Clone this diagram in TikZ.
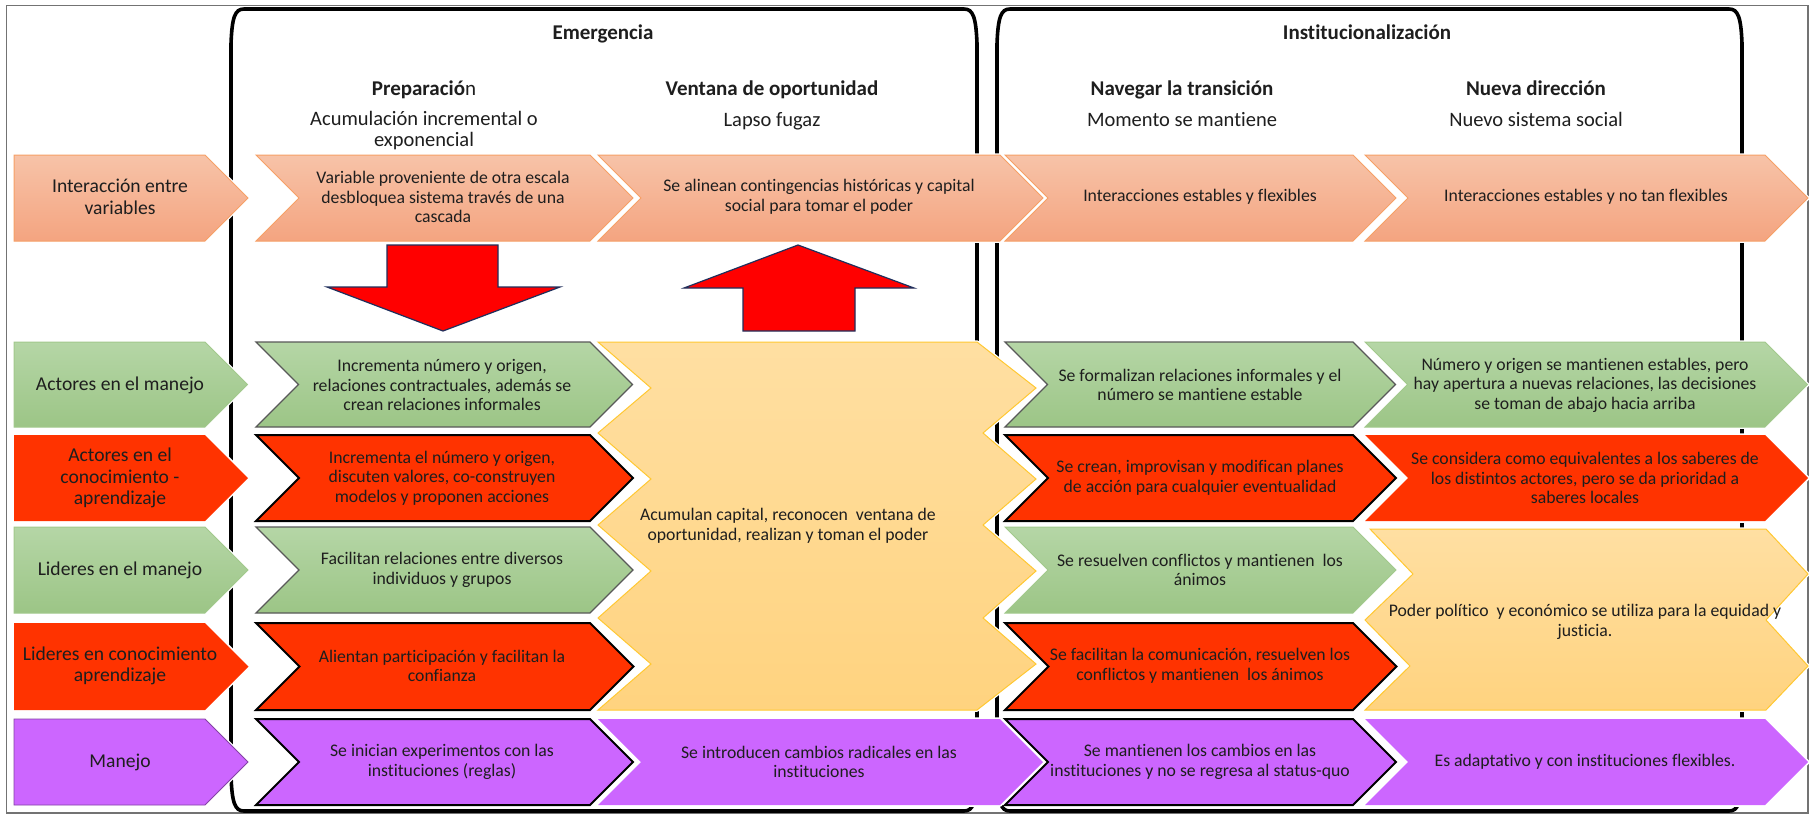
\documentclass[tikz,border=0pt]{standalone}
\usepackage{fontspec}
\setmainfont{Carlito}[RawFeature=-liga, RawFeature=-clig, RawFeature=-calt, RawFeature=-rlig, RawFeature=-dlig]

\definecolor{txt}{HTML}{1E1E1E}
\definecolor{salTop}{HTML}{F7C3A8}
\definecolor{salBot}{HTML}{F4A480}
\definecolor{salEdge}{HTML}{F6A066}
\definecolor{grnTop}{HTML}{B5D6A6}
\definecolor{grnBot}{HTML}{9CC586}
\definecolor{grnEdge}{HTML}{A2C98C}
\definecolor{redFill}{HTML}{FF3300}
\definecolor{purFill}{HTML}{CC66FF}
\definecolor{yelTop}{HTML}{FFDFA2}
\definecolor{yelBot}{HTML}{FFD37F}
\definecolor{yelEdge}{HTML}{FFC832}
\definecolor{arrEdge}{HTML}{1F2F5C}

\newcommand\bodyfont{\fontsize{17.7}{19.5}\selectfont}
\newcommand\labfont{\fontsize{19.6}{21.5}\selectfont}
\newcommand\headfont{\fontsize{21}{25}\selectfont\bfseries}
\newcommand\subfont{\fontsize{20.5}{21}\selectfont}

% chevron: style, left, right, top, bottom (notch and tip at 45 degrees)
\newcommand\rowchevron[5]{%
  \pgfmathsetmacro\chvM{(#4+#5)/2}\pgfmathsetmacro\chvD{(#5-#4)/2}%
  \path[#1] (#2,#4) -- (#3,#4) -- ({#3+\chvD},\chvM) -- (#3,#5) -- (#2,#5)
    -- ({#2+\chvD},\chvM) -- cycle;}
% pentagon with a flat left side
\newcommand\rowplate[5]{%
  \pgfmathsetmacro\chvM{(#4+#5)/2}\pgfmathsetmacro\chvD{(#5-#4)/2}%
  \path[#1] (#2,#4) -- (#3,#4) -- ({#3+\chvD},\chvM) -- (#3,#5) -- (#2,#5) -- cycle;}
% tall rounded frame of a phase: left, right, top, bottom
\newcommand\phaseframe[4]{%
  \draw[phase] ({#1+13},#3) -- ({#2-13},#3)
    .. controls ({#2-4},#3) and ({#2-1},{#3+8}) .. (#2,{#3+35})
    -- (#2,{#4-35})
    .. controls ({#2-1},{#4-8}) and ({#2-4},#4) .. ({#2-13},#4)
    -- ({#1+13},#4)
    .. controls ({#1+4},#4) and ({#1+1},{#4-8}) .. (#1,{#4-35})
    -- (#1,{#3+35})
    .. controls ({#1+1},{#3+8}) and ({#1+4},#3) .. ({#1+13},#3) -- cycle;}

\tikzset{
  halo/.style={preaction={draw=white,line width=3.5pt,line join=round}},
  sal/.style={halo, top color=salTop, bottom color=salBot, draw=salEdge, line width=1pt},
  grnL/.style={halo, top color=grnTop, bottom color=grnBot, draw=grnEdge, line width=1pt},
  grnD/.style={halo, top color=grnTop, bottom color=grnBot, draw=black!65, line width=1.3pt},
  redN/.style={halo, fill=redFill},
  redD/.style={halo, fill=redFill, draw=black, line width=2pt},
  purN/.style={halo, fill=purFill},
  purD/.style={halo, fill=purFill, draw=black, line width=2pt},
  purL/.style={halo, fill=purFill, draw=purFill!65!black, line width=0.8pt},
  yel/.style={halo, top color=yelTop, bottom color=yelBot, draw=yelEdge, line width=1pt},
  bigarrow/.style={fill=red, draw=arrEdge, line width=1.2pt, line join=miter},
  phase/.style={draw=black, line width=3.6pt},
  body/.style={font=\bodyfont, align=center, inner sep=0pt, text=txt},
  lab/.style={font=\labfont, align=center, inner sep=0pt, text=txt},
  head/.style={font=\headfont, inner sep=0pt, anchor=base, text=txt},
  sub/.style={font=\subfont, inner sep=0pt, align=center, text=txt},
}

\begin{document}
\begin{tikzpicture}[x=1pt,y=-1pt]
\useasboundingbox (0,0) rectangle (1811,815);
\fill[white] (0,0) rectangle (1811,815);
\draw[black!55, line width=1.2pt] (6.5,5.5) rectangle (1808,813);

% phase frames
\phaseframe{231}{977}{9}{811}
\phaseframe{997}{1742}{9}{811}

% headings
\node[head] (emer) at (603,39) {Emergencia};
\node[head] (inst) at (1367,39) {Institucionalización};
\node[head] (prep) at (424,95) {Preparació\textmd{n}};
\node[head] (vent) at (772,95) {Ventana de oportunidad};
\node[head] (nave) at (1182,95) {Navegar la transición};
\node[head] (nuev) at (1536,95) {Nueva dirección};
\node[sub] (prepS) at (424,131) {Acumulación incremental o\\exponencial};
\node[sub, anchor=base] (ventS) at (772,126) {Lapso fugaz};
\node[sub, anchor=base] (naveS) at (1182,126) {Momento se mantiene};
\node[sub, anchor=base] (nuevS) at (1536,126) {Nuevo sistema social};

% row 1: interaction between variables
\rowplate{sal}{14}{205}{155}{241}
\rowchevron{sal}{256}{590}{155}{241}
\rowchevron{sal}{598}{1000}{155}{241}
\rowchevron{sal}{1005}{1353}{155}{241}
\rowchevron{sal}{1365}{1765}{155}{241}

% big red arrows
\path[bigarrow] (387,245) -- (498,245) -- (498,287) -- (560,287) -- (443,331)
  -- (327,287) -- (387,287) -- cycle;
\path[bigarrow] (743,331) -- (855,331) -- (855,288) -- (914,288) -- (798,245)
  -- (684,288) -- (743,288) -- cycle;

% row 2
\rowplate{grnL}{14}{205}{342}{427}
\rowchevron{grnD}{256}{590}{342}{427}
\rowchevron{grnD}{1005}{1353}{342}{427}
\rowchevron{grnL}{1365}{1765}{342}{427}
% row 3
\rowplate{redN}{14}{205}{435}{521}
\rowchevron{redD}{256}{590}{435}{521}
\rowchevron{redD}{1005}{1353}{435}{521}
\rowchevron{redN}{1365}{1765}{435}{521}
% row 4
\rowplate{grnL}{14}{205}{527}{613}
\rowchevron{grnD}{256}{590}{527}{613}
\rowchevron{grnL}{1005}{1353}{527}{613}
% row 5
\rowplate{redN}{14}{205}{623}{710}
\rowchevron{redD}{256}{590}{623}{710}
\rowchevron{redD}{1005}{1353}{623}{710}
% row 6
\rowplate{purL}{14}{205}{719}{805}
\rowchevron{purD}{256}{590}{719}{805}
\rowchevron{purN}{598}{1000}{719}{805}
\rowchevron{purD}{1005}{1353}{719}{805}
\rowchevron{purN}{1365}{1765}{719}{805}

% merged yellow blocks
\path[yel] (598,342) -- (977,342) -- (1036,388) -- (983,433) -- (1036,479)
  -- (983,525) -- (1036,571) -- (983,618) -- (1036,664) -- (977,710)
  -- (598,710) -- (651,664) -- (598,618) -- (651,571) -- (598,525)
  -- (651,479) -- (598,433) -- (651,388) -- cycle;
\path[yel] (1370,529) -- (1766,529) -- (1808,574) -- (1766,620) -- (1808,666)
  -- (1766,710) -- (1365,710) -- (1410,666) -- (1365,620) -- (1413,574) -- cycle;

% row labels
\node[lab] (l1) at (120,197) {Interacción entre\\variables};
\node[lab] (l2) at (120,385) {Actores en el manejo};
\node[lab] (l3) at (120,478) {Actores en el\\conocimiento -\\aprendizaje};
\node[lab] (l4) at (120,570) {Lideres en el manejo};
\node[lab] (l5) at (120,666) {Lideres en conocimiento\\aprendizaje};
\node[lab] (l6) at (120,762) {Manejo};

% cell texts
\node[body] (a1) at (443,197) {Variable proveniente de otra escala\\desbloquea sistema través de una\\cascada};
\node[body] (b1) at (819,197) {Se alinean contingencias históricas y capital\\social para tomar el poder};
\node[body] (c1) at (1200,197) {Interacciones estables y flexibles};
\node[body] (d1) at (1586,197) {Interacciones estables y no tan flexibles};

\node[body] (a2) at (442,385) {Incrementa número y origen,\\relaciones contractuales, además se\\crean relaciones informales};
\node[body] (c2) at (1200,385) {Se formalizan relaciones informales y el\\número se mantiene estable};
\node[body] (d2) at (1585,385) {Número y origen se mantienen estables, pero\\hay apertura a nuevas relaciones, las decisiones\\se toman de abajo hacia arriba};

\node[body] (a3) at (442,478) {Incrementa el número y origen,\\discuten valores, co-construyen\\modelos y proponen acciones};
\node[body] (c3) at (1200,478) {Se crean, improvisan y modifican planes\\de acción para cualquier eventualidad};
\node[body] (d3) at (1585,478) {Se considera como equivalentes a los saberes de\\los distintos actores, pero se da prioridad a\\saberes locales};

\node[body] (a4) at (442,570) {Facilitan relaciones entre diversos\\individuos y grupos};
\node[body] (c4) at (1200,570) {Se resuelven conflictos y mantienen\ \ los\\ánimos};

\node[body] (a5) at (442,666) {Alientan participación y facilitan la\\confianza};
\node[body] (c5) at (1200,666) {Se facilitan la comunicación, resuelven los\\conflictos y mantienen\ \ los ánimos};

\node[body] (a6) at (442,762) {Se inician experimentos con las\\instituciones (reglas)};
\node[body] (b6) at (819,762) {Se introducen cambios radicales en las\\instituciones};
\node[body] (c6) at (1200,762) {Se mantienen los cambios en las\\instituciones y no se regresa al status-quo};
\node[body] (d6) at (1585,762) {Es adaptativo y con instituciones flexibles.};

\node[body] (yb) at (788,526) {Acumulan capital, reconocen\ \ ventana de\\oportunidad, realizan y toman el poder};
\node[body] (yd) at (1585,622) {Poder político\ \ y económico se utiliza para la equidad y\\justicia.};
\end{tikzpicture}
\end{document}
